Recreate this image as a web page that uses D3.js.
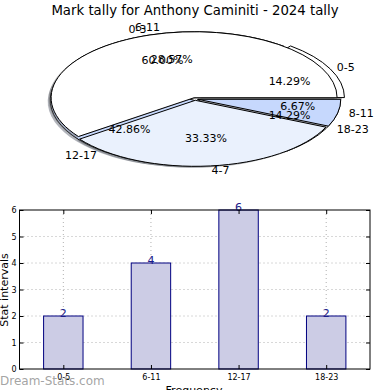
<!DOCTYPE html>
<html>
<head>
<meta charset="utf-8">
<script src="https://cdn.jsdelivr.net/npm/d3@7"></script>
<style>
  body { margin: 0; background: #fff; }
  svg { display: block; font-family: "DejaVu Sans", sans-serif; }
</style>
</head>
<body>
<div id="chart"></div>
<script>
const title = 'Mark tally for Anthony Caminiti - 2024 tally';

// first pie (stat intervals)
const statLabels = ['0-5', '6-11', '12-17', '18-23'];
const statCounts = [2, 4, 6, 2];
const statPct = ['14.29%', '28.57%', '42.86%', '14.29%'];

// second pie (mark bands)
const markLabels = ['0-3', '4-7', '8-11'];
const markShare = [60.00, 33.33, 6.67];
const markPct = ['60.00%', '33.33%', '6.67%'];

const pieColors = ['#ffffff', '#eaf1fd', '#c6d8fd'];
const yTicks = [0, 1, 2, 3, 4, 5, 6];

const W = 390, H = 390;
const svg = d3.select('#chart').append('svg')
  .attr('width', W).attr('height', H);

svg.append('text')
  .attr('x', 195).attr('y', 15)
  .attr('text-anchor', 'middle')
  .style('font-size', '13.3px')
  .text(title);

// ---- pie ----
const cx = 195, cy = 99, rx = 143, ry = 66, R = 100;
const arc = d3.arc().innerRadius(0).outerRadius(R);
// matplotlib style: start at 3 o'clock, counter clockwise
const pie = d3.pie().sort(null)
  .startAngle(Math.PI / 2).endAngle(Math.PI / 2 - 2 * Math.PI);

function drawPie(values, explode, withShadow) {
  const arcs = pie(values);
  const g = svg.append('g');
  arcs.forEach((a, i) => {
    const mid = (a.startAngle + a.endAngle) / 2;
    const e = explode[i];
    const ox = cx + e * rx * Math.sin(mid);
    const oy = cy - e * ry * Math.cos(mid);
    if (withShadow) {
      g.append('path')
        .attr('transform', `translate(${ox - 2.5},${oy + 1.5}) scale(${rx / R},${ry / R})`)
        .attr('d', arc(a))
        .attr('fill', d3.color(pieColors[i % 3]).darker(2.5))
        .attr('fill-opacity', 0.45);
    }
  });
  arcs.forEach((a, i) => {
    const mid = (a.startAngle + a.endAngle) / 2;
    const e = explode[i];
    const ox = cx + e * rx * Math.sin(mid);
    const oy = cy - e * ry * Math.cos(mid);
    g.append('path')
      .attr('transform', `translate(${ox},${oy}) scale(${rx / R},${ry / R})`)
      .attr('d', arc(a))
      .attr('fill', pieColors[i % 3])
      .attr('stroke', '#000')
      .attr('stroke-width', 1)
      .attr('vector-effect', 'non-scaling-stroke');
  });
  return arcs;
}

function drawPieText(arcs, labels, pcts) {
  arcs.forEach((a, i) => {
    const mid = (a.startAngle + a.endAngle) / 2;
    const sx = Math.sin(mid), sy = -Math.cos(mid);
    svg.append('text')
      .attr('x', cx + 1.1 * rx * sx)
      .attr('y', cy + 1.1 * ry * sy)
      .attr('text-anchor', sx >= 0 ? 'start' : 'end')
      .attr('dominant-baseline', 'middle')
      .style('font-size', '11px')
      .text(labels[i]);
    svg.append('text')
      .attr('x', cx + 105 * sx)
      .attr('y', cy + 40 * sy)
      .attr('text-anchor', 'middle')
      .attr('dominant-baseline', 'middle')
      .style('font-size', '11px')
      .text(pcts[i]);
  });
}

const arcs1 = drawPie(statCounts, [0.05, 0.02, 0.02, 0.02], true);
const arcs2 = drawPie(markShare, [0.02, 0.02, 0.02], true);
drawPieText(arcs1, statLabels, statPct);
drawPieText(arcs2, markLabels, markPct);

// ---- bar chart ----
const plotL = 19.5, plotR = 370, plotT = 210, plotB = 369;
const x = d3.scaleLinear().domain([-0.5, 3.5]).range([plotL, plotR]);
const y = d3.scaleLinear().domain([0, 6]).range([plotB, plotT]);
const barW = x(0.45) - x(0);

const grid = svg.append('g')
  .attr('stroke', '#b0b0b0')
  .attr('stroke-dasharray', '1,3');
yTicks.slice(1, -1).forEach(t => {
  grid.append('line').attr('x1', plotL).attr('x2', plotR)
    .attr('y1', y(t)).attr('y2', y(t));
});
statLabels.forEach((c, i) => {
  grid.append('line').attr('x1', x(i)).attr('x2', x(i))
    .attr('y1', plotT).attr('y2', plotB);
});

svg.append('g').selectAll('rect')
  .data(statCounts)
  .join('rect')
  .attr('x', (d, i) => x(i) - barW / 2)
  .attr('y', d => y(d))
  .attr('width', barW)
  .attr('height', d => y(0) - y(d))
  .attr('fill', '#ccccE5')
  .attr('stroke', '#000080')
  .attr('stroke-width', 1);

svg.append('g').selectAll('text')
  .data(statCounts)
  .join('text')
  .attr('x', (d, i) => x(i))
  .attr('y', d => y(d) + 1)
  .attr('text-anchor', 'middle')
  .attr('fill', '#1c1c8a')
  .style('font-size', '11px')
  .text(d => d);

// frame + inward ticks
svg.append('rect')
  .attr('x', plotL).attr('y', plotT)
  .attr('width', plotR - plotL).attr('height', plotB - plotT)
  .attr('fill', 'none').attr('stroke', '#000');

const yAxisL = d3.axisLeft(y).tickValues(yTicks).tickSizeInner(-4).tickSizeOuter(0).tickPadding(3)
  .tickFormat(d3.format('d'));
const yAxisR = d3.axisRight(y).tickValues(yTicks).tickSizeInner(-4).tickSizeOuter(0).tickFormat('');
const xAxisB = d3.axisBottom(x).tickValues([0, 1, 2, 3]).tickSizeInner(-4).tickSizeOuter(0).tickPadding(5)
  .tickFormat(i => statLabels[i]);
const xAxisT = d3.axisTop(x).tickValues([0, 1, 2, 3]).tickSizeInner(-4).tickSizeOuter(0).tickFormat('');

[
  [yAxisL, `translate(${plotL},0)`],
  [yAxisR, `translate(${plotR},0)`],
  [xAxisB, `translate(0,${plotB})`],
  [xAxisT, `translate(0,${plotT})`]
].forEach(([ax, tr]) => {
  const g = svg.append('g').attr('transform', tr).call(ax);
  g.select('.domain').remove();
  g.selectAll('text').style('font-size', '8px').style('font-family', '"DejaVu Sans", sans-serif');
});

svg.append('text')
  .attr('transform', 'translate(5,290) rotate(-90)')
  .attr('text-anchor', 'middle')
  .attr('dominant-baseline', 'middle')
  .style('font-size', '11px')
  .text('Stat intervals');

svg.append('text')
  .attr('x', 194).attr('y', 394)
  .attr('text-anchor', 'middle')
  .style('font-size', '11px')
  .text('Frequency');

svg.append('text')
  .attr('x', 0).attr('y', 385)
  .attr('fill', '#999')
  .attr('fill-opacity', 0.9)
  .style('font-size', '12px')
  .text('Dream-Stats.com');
</script>
</body>
</html>
